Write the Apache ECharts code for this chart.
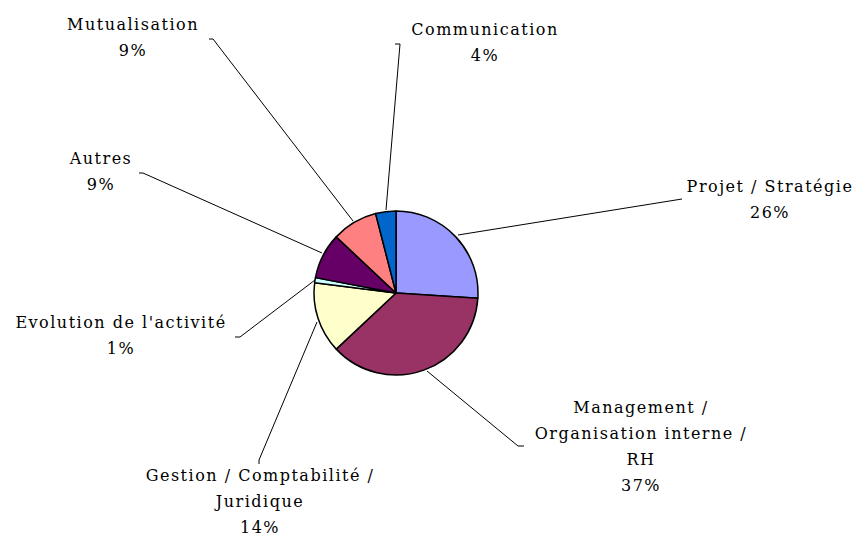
<!DOCTYPE html>
<html>
<head>
<meta charset="utf-8">
<script src="https://cdn.jsdelivr.net/npm/echarts@6/dist/echarts.min.js"></script>
<style>
  html, body { margin: 0; padding: 0; background: #fff; }
  #chart { width: 856px; height: 537px; }
  #chart text { letter-spacing: 1.5px; }
</style>
</head>
<body>
<div id="chart"></div>
<script>
// données (en %)
var categories = ['Projet / Stratégie', 'Management /\nOrganisation interne /\nRH', 'Gestion / Comptabilité /\nJuridique',
  "Evolution de l'activité", 'Autres', 'Mutualisation', 'Communication'];
var values = [26, 37, 14, 1, 9, 9, 4];
var colors = ['#9999FF', '#993366', '#FFFFCC', '#CCFFFF', '#660066', '#FF8080', '#0066CC'];

// position des étiquettes (centre du bloc de texte) et traits de rappel
var labelCenters = [[770, 199], [641, 446], [260, 501], [121, 335], [101, 171], [133, 37], [485, 42]];
var leaderLines = [
  [[458, 235], [682, 199]],
  [[427, 371], [518, 446], [524, 446]],
  [[317, 322], [259, 460], [259, 464]],
  [[315, 280], [240, 337], [235, 337]],
  [[322, 253], [143, 173], [139, 173]],
  [[353, 221], [213, 39], [209, 39]],
  [[386, 210], [400, 44], [395, 44]]
];

var chart = echarts.init(document.getElementById('chart'), null, { renderer: 'svg' });
chart.setOption({
  animation: false,
  backgroundColor: '#fff',
  series: [{
    type: 'pie',
    center: [396, 293],
    radius: 82,
    startAngle: 90,
    clockwise: true,
    avoidLabelOverlap: false,
    itemStyle: { borderColor: '#000', borderWidth: 1.5 },
    label: {
      show: true,
      position: 'outside',
      color: '#000',
      fontFamily: 'DejaVu Serif',
      fontSize: 16,
      lineHeight: 26,
      align: 'center',
      formatter: function (p) { return p.name + '\n' + p.value + '%'; }
    },
    labelLine: { show: true, lineStyle: { color: '#000', width: 1 } },
    labelLayout: function (p) {
      var i = p.dataIndex;
      return {
        x: labelCenters[i][0],
        y: labelCenters[i][1],
        align: 'center',
        verticalAlign: 'middle',
        labelLinePoints: leaderLines[i]
      };
    },
    data: categories.map(function (c, i) {
      return { name: c, value: values[i], itemStyle: { color: colors[i] } };
    })
  }]
});
</script>
</body>
</html>
